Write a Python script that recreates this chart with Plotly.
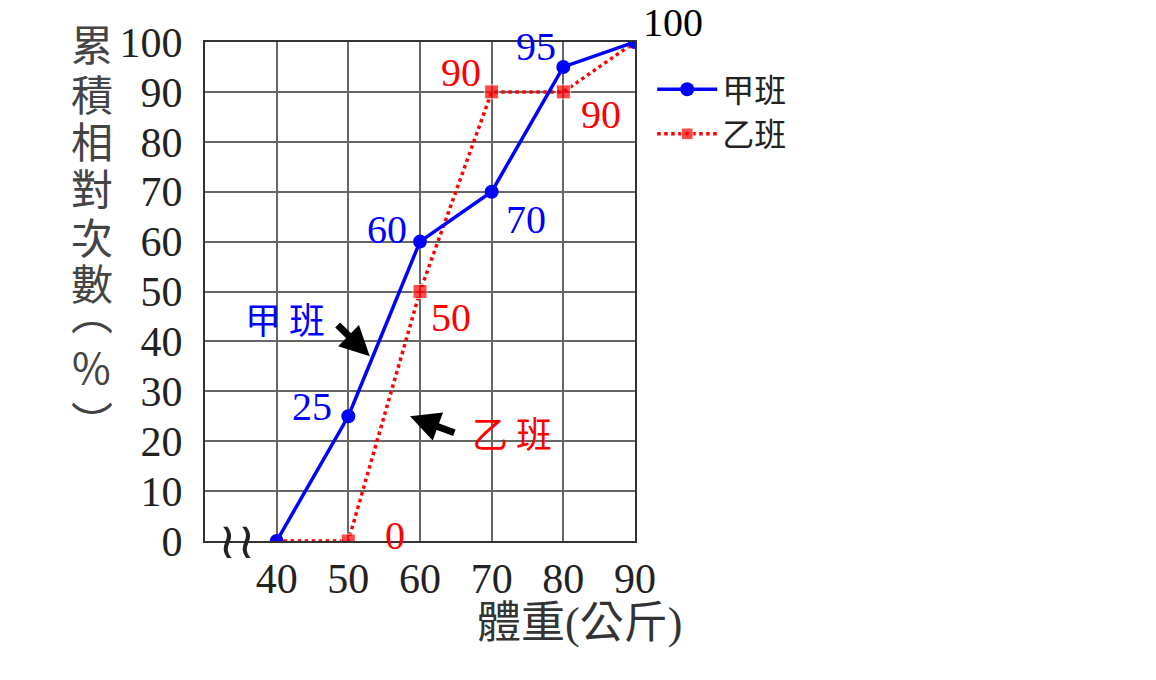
import plotly.graph_objects as go

# cumulative relative frequency (%) by weight (kg)
weights = [40, 50, 60, 70, 80, 90]
class_a = [0, 25, 60, 70, 95, 100]   # 甲班
class_b = [0, 0, 50, 90, 90, 100]    # 乙班
x_ticks = [40, 50, 60, 70, 80, 90]
y_ticks = list(range(0, 101, 10))
y_title_chars = ["累", "積", "相", "對", "次", "數", "︵", "%", "︶"]

BLUE = "#0000ff"
RED = "#ff0000"
SERIF = "Liberation Serif, Noto Sans CJK TC"
CJK = "Noto Sans CJK TC"

fig = go.Figure()

# 乙班 first so 甲班 sits on top; no marker at 40 (hidden under 甲班's point)
fig.add_trace(go.Scatter(
    x=weights, y=class_b, name="乙班", mode="lines+markers",
    line=dict(color=RED, width=3.5, dash="dot"),
    marker=dict(symbol="square", size=[0, 14, 14, 14, 14, 14], color=RED),
))
fig.add_trace(go.Scatter(
    x=weights, y=class_a, name="甲班", mode="lines+markers",
    line=dict(color=BLUE, width=3.5),
    marker=dict(symbol="circle", size=14, color=BLUE),
))

# value labels: (series, index, colour, x offset px, y offset px)
labels = [
    (class_a, 1, BLUE, -36, 10),
    (class_a, 2, BLUE, -33, 12),
    (class_a, 3, BLUE, 34, -28),
    (class_a, 4, BLUE, -27, 20),
    (class_b, 1, RED, 47, 6),
    (class_b, 2, RED, 31, -26),
    (class_b, 3, RED, -31, 19),
    (class_b, 4, RED, 38, -23),
]
for series, i, color, dx, dy in labels:
    fig.add_annotation(
        x=weights[i], y=series[i], text=str(series[i]), showarrow=False,
        xshift=dx, yshift=dy, font=dict(family=SERIF, size=40, color=color),
    )
fig.add_annotation(
    x=weights[-1], y=class_a[-1], text=str(class_a[-1]), showarrow=False,
    xshift=38, yshift=20, font=dict(family=SERIF, size=40, color="black"),
)

# pointer arrows with class names
fig.add_annotation(x=41.2, y=44.7, text="甲 班", showarrow=False,
                   font=dict(family=CJK, size=36, color=BLUE))
fig.add_annotation(x=53.0, y=37.0, ax=48.3, ay=43.6, axref="x", ayref="y",
                   text="", showarrow=True, arrowhead=2, arrowsize=0.85,
                   arrowwidth=7, arrowcolor="black")
fig.add_annotation(x=72.8, y=21.9, text="乙 班", showarrow=False,
                   font=dict(family=CJK, size=36, color=RED))
fig.add_annotation(x=58.6, y=25.0, ax=65.0, ay=21.6, axref="x", ayref="y",
                   text="", showarrow=True, arrowhead=2, arrowsize=0.85,
                   arrowwidth=7, arrowcolor="black")

# axis break mark
fig.add_annotation(x=34.5, y=0, text="≀≀", showarrow=False, yanchor="middle",
                   font=dict(family="DejaVu Serif", size=50, color="#222"))

# vertical y-axis title, one character per line
# (the vertical bracket glyphs sit off-centre in their em box, hence the gaps)
title_rows = [36, 86, 134, 182, 231, 278, 308, 363, 418]  # centre, px from top
for ch, py in zip(y_title_chars, title_rows):
    fig.add_annotation(
        xref="paper", yref="paper", x=-0.263, y=(541 - py) / 506,
        xanchor="center", yanchor="middle", showarrow=False, text=ch,
        font=dict(family=CJK, size=42, color="#444"),
    )
fig.add_annotation(
    xref="paper", yref="paper", x=0.872, y=-0.166,
    xanchor="center", yanchor="middle", showarrow=False, text="體重(公斤)",
    font=dict(family=SERIF, size=44, color="#333"),
)

fig.update_xaxes(
    range=[30, 90], tickvals=x_ticks, showgrid=True, gridcolor="#666",
    gridwidth=1.5, showline=True, linecolor="#333", linewidth=2, mirror=True,
    zeroline=False, ticks="", tickfont=dict(family=SERIF, size=42, color="#222"),
)
fig.update_yaxes(
    range=[0, 100], tickvals=y_ticks, showgrid=True, gridcolor="#666",
    gridwidth=1.5, showline=True, linecolor="#333", linewidth=2, mirror=True,
    zeroline=False, ticks="", ticklabelstandoff=12,
    tickfont=dict(family=SERIF, size=42, color="#222"),
)

fig.update_layout(
    width=1156, height=680,
    margin=dict(l=197, r=529, t=27, b=147),
    plot_bgcolor="white", paper_bgcolor="white",
    legend=dict(
        x=1.04, y=0.96, xanchor="left", yanchor="top", traceorder="reversed",
        font=dict(family=CJK, size=32, color="#222"), bgcolor="rgba(0,0,0,0)",
        itemwidth=60,
    ),
)

fig.write_html("out.html")
